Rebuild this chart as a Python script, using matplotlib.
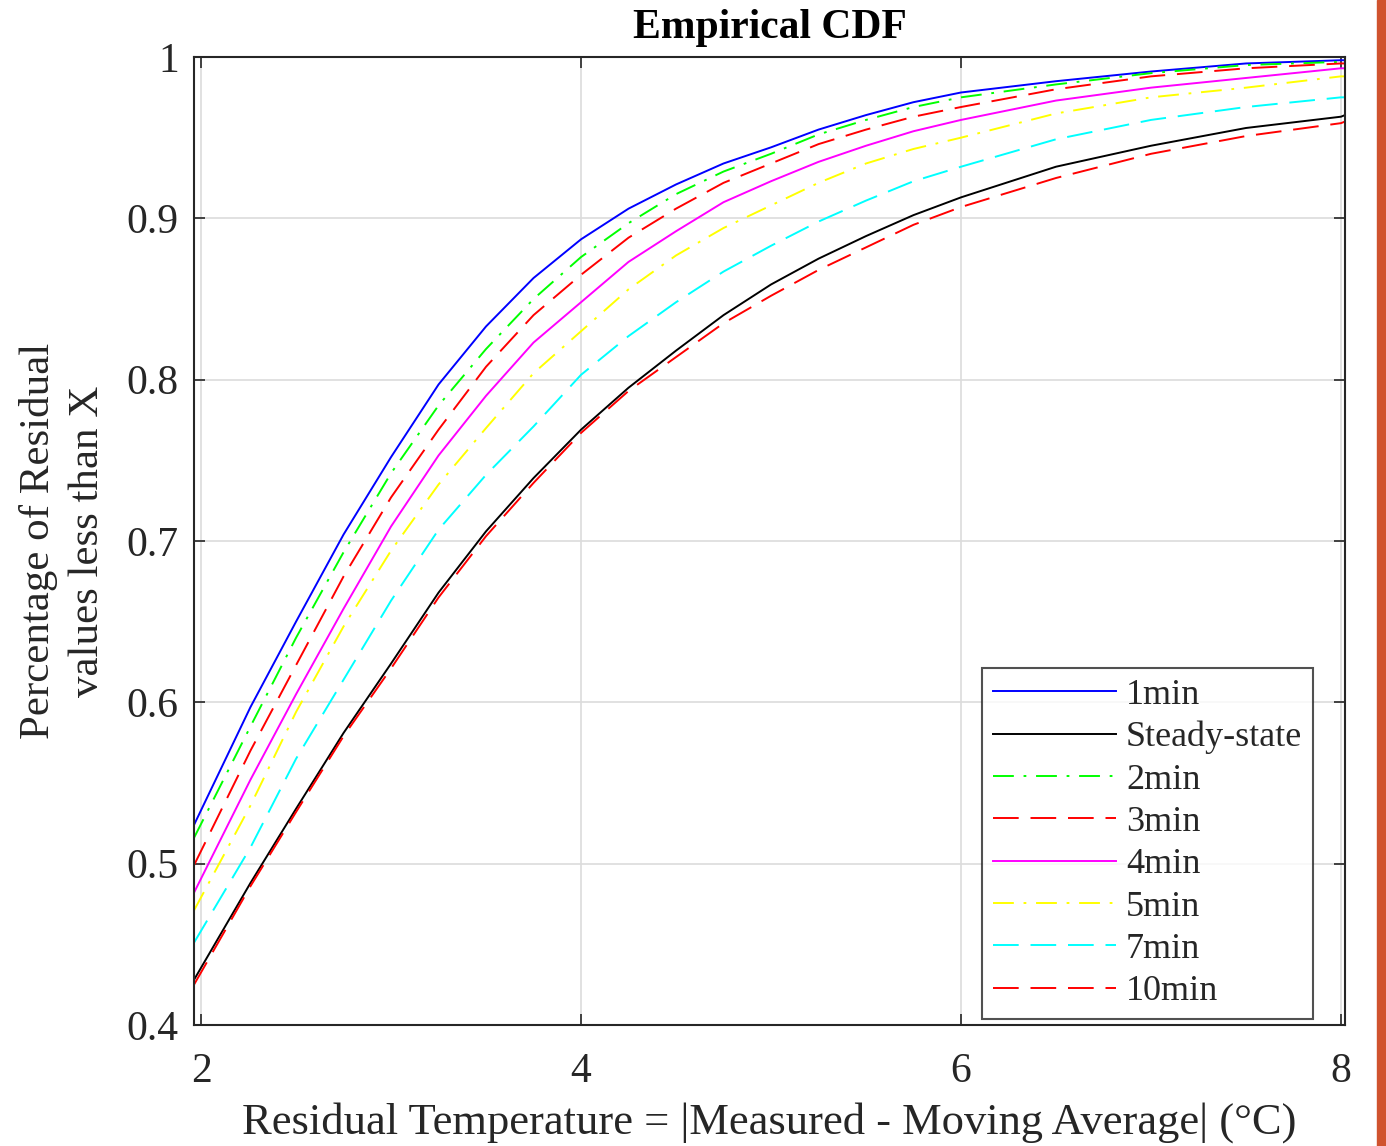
import matplotlib
matplotlib.use("Agg")
import matplotlib.pyplot as plt
from matplotlib.patches import Rectangle
from matplotlib.ticker import FixedLocator, FixedFormatter

plt.rcParams['font.family'] = ['Liberation Serif', 'DejaVu Serif']
plt.rcParams['lines.scale_dashes'] = False

# Residual temperature sample points (°C)
x = [1.963, 2.26, 2.5, 2.75, 3.0, 3.25, 3.5, 3.75, 4.0, 4.25, 4.5, 4.75, 5.0, 5.25, 5.5, 5.75, 6.0, 6.5, 7.0, 7.5, 8.0, 8.021]

cdf_1min = [0.524, 0.597, 0.650, 0.704, 0.752, 0.797, 0.833, 0.863, 0.887, 0.906, 0.921, 0.934, 0.944, 0.955, 0.964, 0.972, 0.978, 0.985, 0.991, 0.996, 0.998, 0.998]
cdf_steady = [0.428, 0.488, 0.534, 0.581, 0.624, 0.668, 0.706, 0.739, 0.769, 0.795, 0.818, 0.840, 0.859, 0.875, 0.889, 0.902, 0.913, 0.932, 0.945, 0.956, 0.963, 0.964]
cdf_2min = [0.516, 0.585, 0.640, 0.693, 0.742, 0.784, 0.819, 0.850, 0.876, 0.897, 0.915, 0.929, 0.940, 0.952, 0.961, 0.969, 0.975, 0.983, 0.990, 0.995, 0.997, 0.997]
cdf_3min = [0.499, 0.570, 0.623, 0.678, 0.727, 0.769, 0.808, 0.840, 0.865, 0.888, 0.906, 0.922, 0.934, 0.946, 0.955, 0.963, 0.969, 0.980, 0.988, 0.993, 0.996, 0.996]
cdf_4min = [0.482, 0.552, 0.605, 0.658, 0.709, 0.753, 0.790, 0.823, 0.848, 0.873, 0.892, 0.910, 0.923, 0.935, 0.945, 0.954, 0.961, 0.973, 0.981, 0.987, 0.993, 0.993]
cdf_5min = [0.471, 0.536, 0.594, 0.647, 0.694, 0.735, 0.770, 0.804, 0.830, 0.856, 0.877, 0.894, 0.908, 0.922, 0.934, 0.943, 0.950, 0.965, 0.975, 0.981, 0.988, 0.988]
cdf_7min = [0.451, 0.510, 0.565, 0.614, 0.663, 0.707, 0.741, 0.771, 0.803, 0.827, 0.848, 0.867, 0.883, 0.898, 0.911, 0.923, 0.932, 0.949, 0.961, 0.969, 0.975, 0.975]
cdf_10min = [0.425, 0.486, 0.532, 0.579, 0.621, 0.665, 0.703, 0.736, 0.767, 0.793, 0.814, 0.835, 0.852, 0.868, 0.882, 0.896, 0.907, 0.925, 0.940, 0.951, 0.959, 0.960]

labels = ['1min', 'Steady-state', '2min', '3min', '4min', '5min', '7min', '10min']
colors = ['#0000ff', '#000000', '#00ff00', '#ff0000', '#ff00ff', '#ffff00', '#00ffff', '#ff0000']
dash = (0, (18.5, 8.5))
dashdot = (0, (15, 7, 2, 7))
styles = ['-', '-', dashdot, dash, '-', dashdot, dash, dash]
series = [cdf_1min, cdf_steady, cdf_2min, cdf_3min, cdf_4min, cdf_5min, cdf_7min, cdf_10min]

xticks = [2, 4, 6, 8]
yticks = [0.4, 0.5, 0.6, 0.7, 0.8, 0.9, 1.0]
ytick_labels = ['0.4', '0.5', '0.6', '0.7', '0.8', '0.9', '1']

fig = plt.figure(figsize=(13.86, 11.46), dpi=100)
ax = fig.add_axes([194/1386, 1 - 1025/1146, (1345-194)/1386, (1025-57)/1146])

for y, lab, c, ls in zip(series, labels, colors, styles):
    ax.plot(x, y, color=c, linestyle=ls, linewidth=1.4, label=lab)

ax.set_xlim(1.963, 8.021)
ax.set_ylim(0.4, 1.0)
ax.xaxis.set_major_locator(FixedLocator(xticks))
ax.yaxis.set_major_locator(FixedLocator(yticks))
ax.yaxis.set_major_formatter(FixedFormatter(ytick_labels))
ax.grid(True, color='#dcdcdc', linewidth=1.2)
ax.set_axisbelow(True)
ax.tick_params(direction='in', length=8, width=1.2, top=True, right=True,
               labelsize=30, colors='#262626')
ax.tick_params(axis='y', pad=11)
ax.tick_params(axis='x', pad=20)
for s in ax.spines.values():
    s.set_linewidth(1.5)
    s.set_color('#262626')

ax.set_title('Empirical CDF', fontsize=30, fontweight='bold', pad=14)
ax.set_xlabel('Residual Temperature = |Measured - Moving Average| (°C)', fontsize=32, color='#262626', labelpad=8)
ax.set_ylabel('Percentage of Residual\nvalues less than X', fontsize=31, color='#262626', labelpad=14,
              linespacing=1.35)

leg = ax.legend(loc='lower right', bbox_to_anchor=(1313/1386, 1 - 1019/1146), bbox_transform=fig.transFigure,
                fontsize=26, frameon=True, fancybox=False, edgecolor='#262626', handlelength=3.4,
                handletextpad=0.28, labelspacing=0.25, borderpad=0.3, borderaxespad=0)
leg.get_frame().set_linewidth(1.5)
for t in leg.get_texts():
    t.set_color('#262626')

fig.patches.append(Rectangle((1377/1386, 0), 9/1386, 1, transform=fig.transFigure, color='#d0532e', zorder=5))

fig.savefig('out.png', dpi=100)
